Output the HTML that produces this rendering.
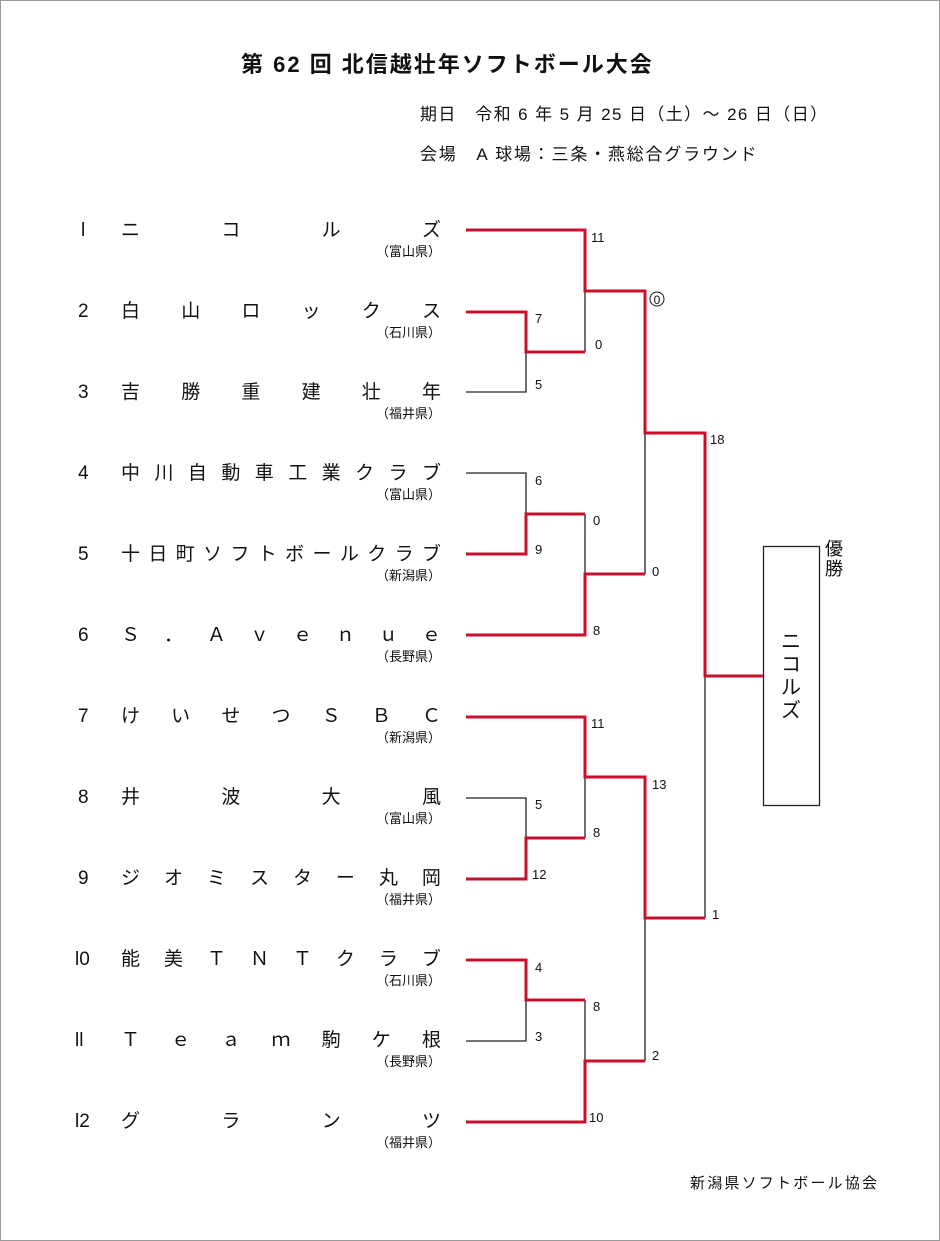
<!DOCTYPE html>
<html><head><meta charset="utf-8"><style>
body{margin:0;background:#fff;}
#p{position:relative;width:938px;height:1239px;border:1px solid #999;overflow:hidden;font-family:"Liberation Sans","Noto Sans CJK JP",sans-serif;color:#111;}
.t{position:absolute;white-space:nowrap;}
.team{position:absolute;left:120px;width:320px;display:flex;justify-content:space-between;font-size:19px;line-height:22px;}
.num{position:absolute;font-size:19px;line-height:22px;}
.pref{position:absolute;right:498px;font-size:13px;line-height:16px;}
</style></head><body><div id="p">
<div class="t" style="left:240px;top:46px;font-size:22px;font-weight:bold;letter-spacing:2px;">第 62 回 北信越壮年ソフトボール大会</div>
<div class="t" style="left:419px;top:99px;font-size:17px;letter-spacing:1.4px;">期日　令和 6 年 5 月 25 日（土）～ 26 日（日）</div>
<div class="t" style="left:419px;top:139px;font-size:17px;letter-spacing:1.8px;">会場　A 球場：三条・燕総合グラウンド</div>

<div class="num" style="left:80px;top:219px">l</div><div class="team" style="top:219px"><span>ニ</span><span>コ</span><span>ル</span><span>ズ</span></div><div class="pref" style="top:243px">（富山県）</div>
<div class="num" style="left:77px;top:300px">2</div><div class="team" style="top:300px"><span>白</span><span>山</span><span>ロ</span><span>ッ</span><span>ク</span><span>ス</span></div><div class="pref" style="top:324px">（石川県）</div>
<div class="num" style="left:77px;top:381px">3</div><div class="team" style="top:381px"><span>吉</span><span>勝</span><span>重</span><span>建</span><span>壮</span><span>年</span></div><div class="pref" style="top:405px">（福井県）</div>
<div class="num" style="left:77px;top:462px">4</div><div class="team" style="top:462px"><span>中</span><span>川</span><span>自</span><span>動</span><span>車</span><span>工</span><span>業</span><span>ク</span><span>ラ</span><span>ブ</span></div><div class="pref" style="top:486px">（富山県）</div>
<div class="num" style="left:77px;top:543px">5</div><div class="team" style="top:543px"><span>十</span><span>日</span><span>町</span><span>ソ</span><span>フ</span><span>ト</span><span>ボ</span><span>ー</span><span>ル</span><span>ク</span><span>ラ</span><span>ブ</span></div><div class="pref" style="top:567px">（新潟県）</div>
<div class="num" style="left:77px;top:624px">6</div><div class="team" style="top:624px"><span>Ｓ</span><span>．</span><span>Ａ</span><span>ｖ</span><span>ｅ</span><span>ｎ</span><span>ｕ</span><span>ｅ</span></div><div class="pref" style="top:648px">（長野県）</div>
<div class="num" style="left:77px;top:705px">7</div><div class="team" style="top:705px"><span>け</span><span>い</span><span>せ</span><span>つ</span><span>Ｓ</span><span>Ｂ</span><span>Ｃ</span></div><div class="pref" style="top:729px">（新潟県）</div>
<div class="num" style="left:77px;top:786px">8</div><div class="team" style="top:786px"><span>井</span><span>波</span><span>大</span><span>風</span></div><div class="pref" style="top:810px">（富山県）</div>
<div class="num" style="left:77px;top:867px">9</div><div class="team" style="top:867px"><span>ジ</span><span>オ</span><span>ミ</span><span>ス</span><span>タ</span><span>ー</span><span>丸</span><span>岡</span></div><div class="pref" style="top:891px">（福井県）</div>
<div class="num" style="left:74px;top:948px">l0</div><div class="team" style="top:948px"><span>能</span><span>美</span><span>Ｔ</span><span>Ｎ</span><span>Ｔ</span><span>ク</span><span>ラ</span><span>ブ</span></div><div class="pref" style="top:972px">（石川県）</div>
<div class="num" style="left:74px;top:1029px">ll</div><div class="team" style="top:1029px"><span>Ｔ</span><span>ｅ</span><span>ａ</span><span>ｍ</span><span>駒</span><span>ケ</span><span>根</span></div><div class="pref" style="top:1053px">（長野県）</div>
<div class="num" style="left:74px;top:1110px">l2</div><div class="team" style="top:1110px"><span>グ</span><span>ラ</span><span>ン</span><span>ツ</span></div><div class="pref" style="top:1134px">（福井県）</div>

<svg style="position:absolute;left:0;top:0" width="940" height="1241">
<g fill="none" stroke="#222" stroke-width="1.3">
<path d="M465 391H525V351M584 290V351M465 472H525V513M584 513V573M644 432V573M465 797H525V837M584 776V837M704 675V917M465 1040H525V999M584 999V1060M644 917V1060"/>
<rect x="762.5" y="545.5" width="56" height="259"/>
</g>
<g fill="none" stroke="#c8102e" stroke-width="3">
<path d="M465 229H584V290H644V432H704V675H762"/>
<path d="M465 311H525V351H584"/>
<path d="M465 553H525V513H584"/>
<path d="M465 634H584V573H644"/>
<path d="M465 716H584V776H644V917H704"/>
<path d="M465 878H525V837H584"/>
<path d="M465 959H525V999H584"/>
<path d="M465 1121H584V1060H644"/>
</g>
<g font-family="Liberation Sans,sans-serif" font-size="13" fill="#111">
<text x="590" y="241">11</text><text x="534" y="322">7</text><text x="534" y="388">5</text><text x="594" y="348">0</text>
<text x="709" y="443">18</text>
<text x="534" y="484">6</text><text x="534" y="553">9</text><text x="592" y="524">0</text><text x="651" y="575">0</text><text x="592" y="634">8</text>
<text x="590" y="727">11</text><text x="651" y="788">13</text><text x="534" y="808">5</text><text x="592" y="836">8</text><text x="531" y="878">12</text>
<text x="711" y="918">1</text>
<text x="534" y="971">4</text><text x="592" y="1010">8</text><text x="534" y="1040">3</text><text x="651" y="1059">2</text><text x="588" y="1121">10</text>
</g>
<circle cx="656" cy="298" r="7" fill="none" stroke="#111" stroke-width="1"/>
<text x="656" y="303" font-family="Liberation Sans,sans-serif" font-size="12" text-anchor="middle" fill="#111">0</text>
</svg>
<div class="t" style="left:779px;top:630px;font-size:20px;line-height:23px;width:22px;text-align:center;white-space:normal;">ニコルズ</div>
<div class="t" style="left:824px;top:538px;font-size:18px;line-height:20px;width:20px;white-space:normal;">優勝</div>
<div class="t" style="left:689px;top:1171px;font-size:15px;letter-spacing:2.2px;">新潟県ソフトボール協会</div>
</div></body></html>
